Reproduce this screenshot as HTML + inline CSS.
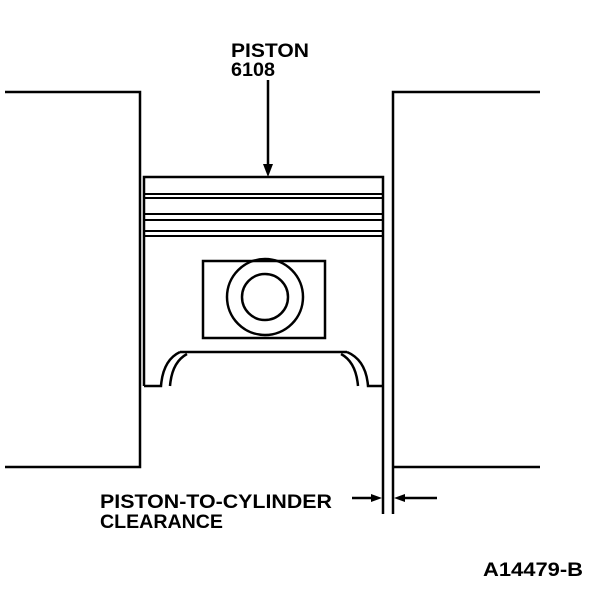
<!DOCTYPE html>
<html><head><style>
body{margin:0;background:#fff;width:608px;height:602px;overflow:hidden}
svg{display:block}
text{font-family:"Liberation Sans",Arial,sans-serif;font-size:19px;font-weight:bold;fill:#000}
</style></head><body>
<svg width="608" height="602" viewBox="0 0 608 602" xmlns="http://www.w3.org/2000/svg">
<g stroke="#000" stroke-width="2.5" fill="none">
<polyline points="5,92 140,92 140,467 5,467"/>
<polyline points="540,92 393,92 393,514"/>
<line x1="393" y1="467" x2="540" y2="467"/>
<polyline points="144,386 144,177 383,177 383,514"/>
<line x1="144" y1="194" x2="383" y2="194" stroke-width="2"/>
<line x1="144" y1="198" x2="383" y2="198" stroke-width="2"/>
<line x1="144" y1="214" x2="383" y2="214" stroke-width="2"/>
<line x1="144" y1="220" x2="383" y2="220" stroke-width="2"/>
<line x1="144" y1="231" x2="383" y2="231" stroke-width="2"/>
<line x1="144" y1="236" x2="383" y2="236" stroke-width="2"/>
<rect x="203" y="261" width="122" height="77"/>
<circle cx="265" cy="297" r="38"/>
<circle cx="265" cy="297" r="23"/>
<line x1="180" y1="352" x2="347" y2="352"/>
<path d="M144,386 L161,386 Q163,360 180,352"/>
<path d="M170,386 Q172,362 187,354"/>
<path d="M383,386 L368,386 Q366,360 347,352"/>
<path d="M358,386 Q356,362 341,354"/>
<line x1="268" y1="80" x2="268" y2="168"/>
<line x1="352" y1="498" x2="375" y2="498"/>
<line x1="400" y1="498" x2="437" y2="498"/>
</g>
<polygon points="263,164 273,164 268,177" fill="#000"/>
<polygon points="371,494 371,502 382,498" fill="#000"/>
<polygon points="405,494 405,502 394,498" fill="#000"/>
<text x="231" y="57" textLength="78" lengthAdjust="spacingAndGlyphs">PISTON</text>
<text x="231" y="76" textLength="44" lengthAdjust="spacingAndGlyphs">6108</text>
<text x="100" y="508" textLength="232" lengthAdjust="spacingAndGlyphs">PISTON-TO-CYLINDER</text>
<text x="100" y="528" textLength="123" lengthAdjust="spacingAndGlyphs">CLEARANCE</text>
<text x="483" y="576" textLength="100" lengthAdjust="spacingAndGlyphs">A14479-B</text>
</svg>
</body></html>
